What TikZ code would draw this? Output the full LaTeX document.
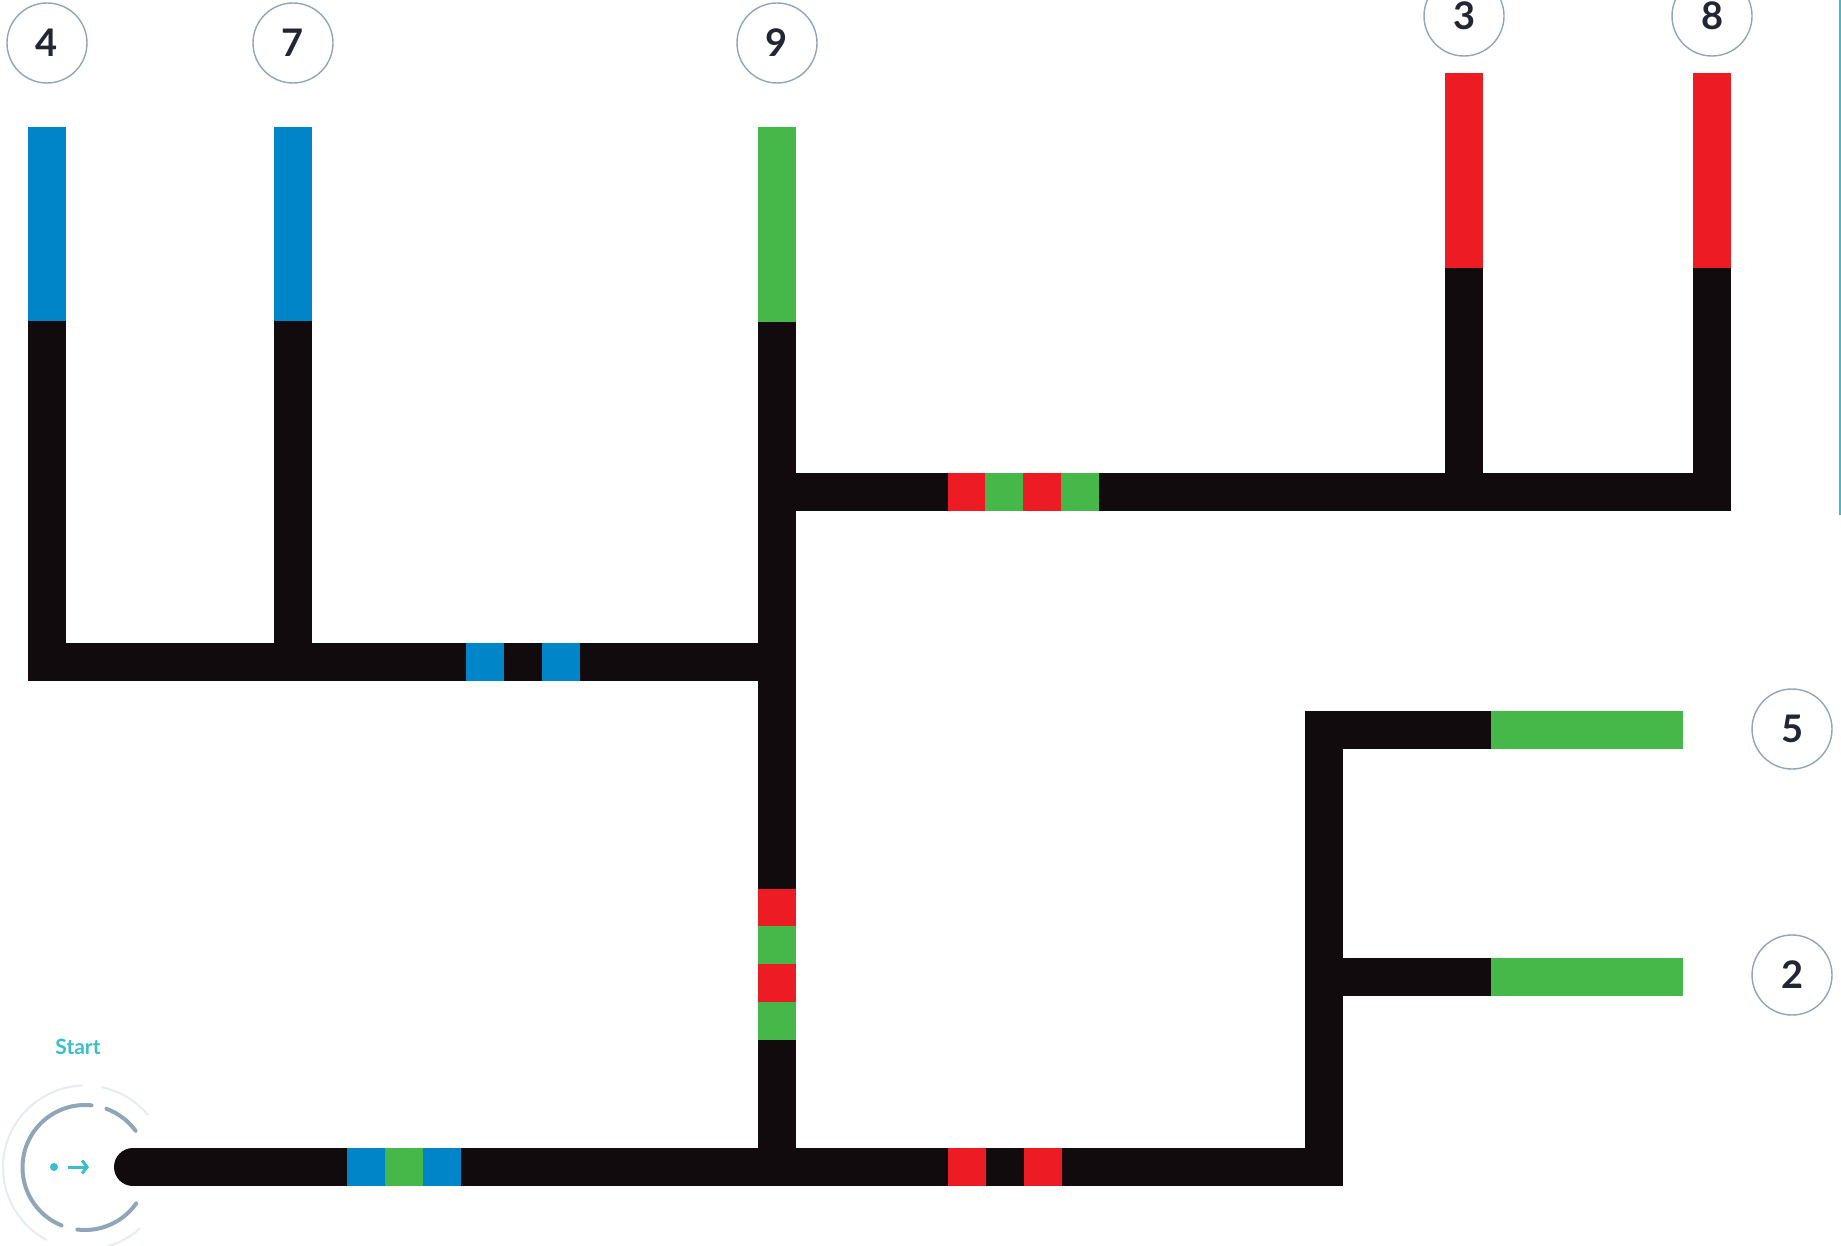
\documentclass[tikz,border=0pt]{standalone}
\usepackage{fontspec}
\setmainfont{Lato}
\usetikzlibrary{arrows.meta}

\begin{document}
\begin{tikzpicture}[x=1pt,y=-1pt,
  ziel/.style={circle,draw=kreisgrau,line width=1.4pt,minimum size=80pt,inner sep=0pt,
    text=ziffer,font=\fontsize{38}{38}\selectfont\bfseries},
  ring/.style={kreisgrau,line width=4pt,line cap=round},
  aussenring/.style={hellgrau,line width=2pt,line cap=round}]

\definecolor{bahn}{RGB}{17,11,13};
\definecolor{bahnblau}{RGB}{0,133,201};
\definecolor{bahngruen}{RGB}{70,183,73};
\definecolor{bahnrot}{RGB}{237,28,36};
\definecolor{kreisgrau}{RGB}{143,166,184};
\definecolor{hellgrau}{RGB}{228,237,240};
\definecolor{ziffer}{RGB}{34,38,51};
\definecolor{tuerkis}{RGB}{59,190,204};

\useasboundingbox (0,0) rectangle (1841,1246);

% Zielkreise
\node[ziel] (z4) at (47,43)   {4};
\node[ziel] (z7) at (293,43)  {7};
\node[ziel] (z9) at (777,43)  {9};
\node[ziel] (z3) at (1464,16) {3};
\node[ziel] (z8) at (1712,16) {8};
\node[ziel] (z5) at (1792,729) {5};
\node[ziel] (z2) at (1792,975) {2};

% linker Ast
\fill[bahn]     (28,321)  rectangle (66,681);
\fill[bahnblau] (28,127)  rectangle (66,321);
\fill[bahn]     (274,321) rectangle (312,643);
\fill[bahnblau] (274,127) rectangle (312,321);
\fill[bahn]     (28,643)  rectangle (777,681);
\fill[bahnblau] (466,643) rectangle (504,681);
\fill[bahnblau] (542,643) rectangle (580,681);

% mittlerer Stamm
\fill[bahngruen] (758,127) rectangle (796,322);
\fill[bahn]      (758,322) rectangle (796,1186);
\fill[bahnrot]   (758,889) rectangle (796,926);
\fill[bahngruen] (758,926) rectangle (796,964);
\fill[bahnrot]   (758,964) rectangle (796,1002);
\fill[bahngruen] (758,1002) rectangle (796,1040);

% oberer Ast
\fill[bahn]      (777,473)  rectangle (1731,511);
\fill[bahnrot]   (948,473)  rectangle (985,511);
\fill[bahngruen] (985,473)  rectangle (1023,511);
\fill[bahnrot]   (1023,473) rectangle (1061,511);
\fill[bahngruen] (1061,473) rectangle (1099,511);
\fill[bahnrot]   (1445,73)  rectangle (1483,268);
\fill[bahn]      (1445,268) rectangle (1483,491);
\fill[bahnrot]   (1693,73)  rectangle (1731,268);
\fill[bahn]      (1693,268) rectangle (1731,511);

% untere Strecke
\fill[bahn] (133,1148) rectangle (1343,1186);
\fill[bahn] (133,1167) circle [radius=19pt];
\fill[bahnblau]  (347,1148) rectangle (385,1186);
\fill[bahngruen] (385,1148) rectangle (423,1186);
\fill[bahnblau]  (423,1148) rectangle (461,1186);
\fill[bahnrot]   (948,1148) rectangle (986,1186);
\fill[bahnrot]   (1024,1148) rectangle (1062,1186);

% rechter Ast
\fill[bahn]      (1305,711) rectangle (1343,1186);
\fill[bahn]      (1343,711) rectangle (1491,749);
\fill[bahngruen] (1491,711) rectangle (1683,749);
\fill[bahn]      (1343,958) rectangle (1491,996);
\fill[bahngruen] (1491,958) rectangle (1683,996);

% Start
\coordinate (mitte) at (85,1167.5);
\draw[aussenring] ([shift={(92:82pt)}]mitte)  arc[start angle=92,end angle=242,radius=82pt];
\draw[aussenring] ([shift={(258:82pt)}]mitte) arc[start angle=258,end angle=312,radius=82pt];
\draw[aussenring] ([shift={(40:82pt)}]mitte)  arc[start angle=40,end angle=78,radius=82pt];
\draw[ring] ([shift={(84:62.5pt)}]mitte)  arc[start angle=84,end angle=248,radius=62.5pt];
\draw[ring] ([shift={(263:62.5pt)}]mitte) arc[start angle=263,end angle=325,radius=62.5pt];
\draw[ring] ([shift={(36:62.5pt)}]mitte)  arc[start angle=36,end angle=70,radius=62.5pt];

\fill[tuerkis] (54,1167) circle [radius=4pt];
\draw[tuerkis,line width=3pt,-{Straight Barb[length=5pt,width=13pt]}] (68,1167) -- (89,1167);

\node[tuerkis,font=\fontsize{21}{21}\selectfont\bfseries] (start) at (78,1047) {Start};

\draw[tuerkis,line width=2.5pt] (1840,0) -- (1840,515);
\end{tikzpicture}
\end{document}
